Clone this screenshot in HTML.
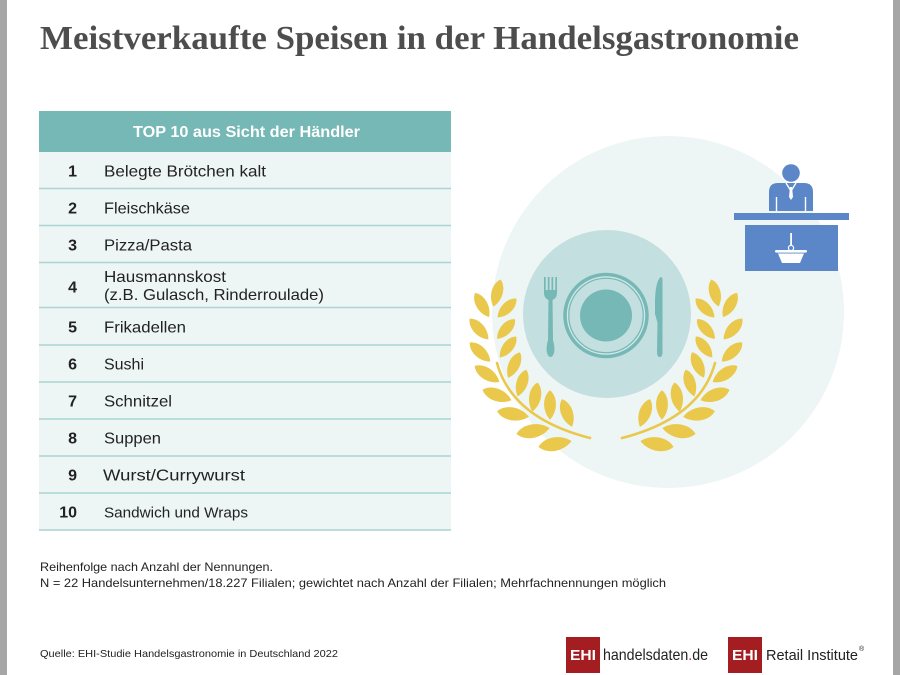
<!DOCTYPE html>
<html>
<head>
<meta charset="utf-8">
<style>
html,body{margin:0;padding:0;background:#fff;}
svg{display:block;}
</style>
</head>
<body>
<svg width="900" height="675" viewBox="0 0 900 675" xmlns="http://www.w3.org/2000/svg">
  <defs>
    <path id="leaf" d="M0,-14 C7.5,-8 7.5,6 0,14 C-7.5,6 -7.5,-8 0,-14Z"/>
  </defs>
  <rect x="0" y="0" width="900" height="675" fill="#ffffff"/>
  <rect x="0" y="0" width="7" height="675" fill="#a6a6a6"/>
  <rect x="893" y="0" width="7" height="675" fill="#a6a6a6"/>

  <!-- Title -->
  <text x="40" y="49" font-family="'Liberation Serif', serif" font-weight="bold" font-size="34" fill="#4d4d4d" textLength="759" lengthAdjust="spacingAndGlyphs">Meistverkaufte Speisen in der Handelsgastronomie</text>

  <!-- Table -->
  <rect x="39" y="111" width="412" height="41" fill="#76b8b6"/>
  <text x="133" y="137" font-family="'Liberation Sans', sans-serif" font-weight="bold" font-size="15.5" fill="#ffffff" textLength="227" lengthAdjust="spacingAndGlyphs">TOP 10 aus Sicht der Händler</text>
  <rect x="39" y="152" width="412" height="378" fill="#eef5f5"/>
  <g stroke="#a9d4d2" stroke-width="1.6">
    <line x1="39" y1="188.5" x2="451" y2="188.5"/>
    <line x1="39" y1="225.5" x2="451" y2="225.5"/>
    <line x1="39" y1="262.5" x2="451" y2="262.5"/>
    <line x1="39" y1="307.5" x2="451" y2="307.5"/>
    <line x1="39" y1="345" x2="451" y2="345"/>
    <line x1="39" y1="382" x2="451" y2="382"/>
    <line x1="39" y1="419" x2="451" y2="419"/>
    <line x1="39" y1="456" x2="451" y2="456"/>
    <line x1="39" y1="493" x2="451" y2="493"/>
    <line x1="39" y1="530" x2="451" y2="530"/>
  </g>
  <g font-family="'Liberation Sans', sans-serif" font-weight="bold" font-size="16" fill="#222" text-anchor="end">
    <text x="77" y="176.5">1</text>
    <text x="77" y="213.5">2</text>
    <text x="77" y="250.5">3</text>
    <text x="77" y="292.5">4</text>
    <text x="77" y="332.5">5</text>
    <text x="77" y="369.5">6</text>
    <text x="77" y="406.5">7</text>
    <text x="77" y="443.5">8</text>
    <text x="77" y="480.5">9</text>
    <text x="77" y="517.5">10</text>
  </g>
  <g font-family="'Liberation Sans', sans-serif" font-size="16" fill="#222">
    <text x="104" y="176.5" textLength="162" lengthAdjust="spacingAndGlyphs">Belegte Brötchen kalt</text>
    <text x="104" y="213.5" textLength="86" lengthAdjust="spacingAndGlyphs">Fleischkäse</text>
    <text x="104" y="250.5" textLength="88" lengthAdjust="spacingAndGlyphs">Pizza/Pasta</text>
    <text x="104" y="282" textLength="122" lengthAdjust="spacingAndGlyphs">Hausmannskost</text>
    <text x="104" y="300" textLength="220" lengthAdjust="spacingAndGlyphs">(z.B. Gulasch, Rinderroulade)</text>
    <text x="104" y="332.5" textLength="82" lengthAdjust="spacingAndGlyphs">Frikadellen</text>
    <text x="104" y="369.5" textLength="40" lengthAdjust="spacingAndGlyphs">Sushi</text>
    <text x="104" y="406.5" textLength="68" lengthAdjust="spacingAndGlyphs">Schnitzel</text>
    <text x="104" y="443.5" textLength="57" lengthAdjust="spacingAndGlyphs">Suppen</text>
    <text x="103" y="480.5" textLength="142" lengthAdjust="spacingAndGlyphs">Wurst/Currywurst</text>
    <text x="104" y="517.5" font-size="15" textLength="144" lengthAdjust="spacingAndGlyphs">Sandwich und Wraps</text>
  </g>

  <!-- Illustration -->
  <circle cx="668" cy="312" r="176" fill="#eef5f5"/>
  <circle cx="607" cy="314" r="84" fill="#c4dfdf"/>
  <!-- plate -->
  <circle cx="606" cy="315.5" r="41" fill="none" stroke="#76b8b6" stroke-width="3.5"/>
  <circle cx="606" cy="315.5" r="38.6" fill="none" stroke="#d6e9e9" stroke-width="0.8"/>
  <circle cx="606" cy="315.5" r="37.2" fill="none" stroke="#76b8b6" stroke-width="1.2"/>
  <circle cx="606" cy="315.5" r="26" fill="#76b8b6"/>
  <!-- fork -->
  <g fill="#76b8b6">
    <rect x="544" y="277" width="1.7" height="15"/>
    <rect x="547.8" y="277" width="1.7" height="15"/>
    <rect x="551.5" y="277" width="1.7" height="15"/>
    <rect x="555.3" y="277" width="1.7" height="15"/>
    <path d="M544,290 L557,290 L557,293 Q557,298 552.5,300 L548.5,300 Q544,298 544,293 Z"/>
    <path d="M548.5,299 L552.5,299 L553,340 Q555,347 554.2,352 Q553,357 550.5,357 Q548,357 546.8,352 Q546,347 548,340 Z"/>
  </g>
  <!-- knife -->
  <path fill="#76b8b6" d="M660.5,277 Q655.5,282 655,300 L655,314 Q656.5,319 657.5,323 L657,352 Q657,357 659.7,357 Q662.5,357 662.5,352 L662.5,280 Q662.5,277 660.5,277 Z"/>

  <!-- laurels -->
  <g fill="#e9c84b">
    <path d="M497,363 Q512,418 590,438" fill="none" stroke="#e9c84b" stroke-width="2.6" stroke-linecap="round"/>
    <use href="#leaf" transform="translate(497,293) rotate(15)"/>
    <use href="#leaf" transform="translate(482,305) rotate(-30)"/>
    <use href="#leaf" transform="translate(479,329) rotate(-42)"/>
    <use href="#leaf" transform="translate(480,352) rotate(-47)"/>
    <use href="#leaf" transform="translate(487,374) rotate(-57) scale(1.05)"/>
    <use href="#leaf" transform="translate(497,395) rotate(-70) scale(1.1)"/>
    <use href="#leaf" transform="translate(513,414) rotate(-80) scale(1.15)"/>
    <use href="#leaf" transform="translate(533,431) rotate(-100) scale(1.2)"/>
    <use href="#leaf" transform="translate(555,444) rotate(-100) scale(1.2)"/>
    <use href="#leaf" transform="translate(507,308) rotate(45) scale(0.95)"/>
    <use href="#leaf" transform="translate(506,329) rotate(42) scale(0.95)"/>
    <use href="#leaf" transform="translate(508,347) rotate(38) scale(0.95)"/>
    <use href="#leaf" transform="translate(514,365) rotate(25)"/>
    <use href="#leaf" transform="translate(522,383) rotate(18)"/>
    <use href="#leaf" transform="translate(535,397) rotate(10) scale(1.05)"/>
    <use href="#leaf" transform="translate(550,405) rotate(0) scale(1.05)"/>
    <use href="#leaf" transform="translate(567,413) rotate(-20) scale(1.05)"/>
  </g>
  <g transform="translate(1212,0) scale(-1,1)" fill="#e9c84b">
    <path d="M497,363 Q512,418 590,438" fill="none" stroke="#e9c84b" stroke-width="2.6" stroke-linecap="round"/>
    <use href="#leaf" transform="translate(497,293) rotate(15)"/>
    <use href="#leaf" transform="translate(482,305) rotate(-30)"/>
    <use href="#leaf" transform="translate(479,329) rotate(-42)"/>
    <use href="#leaf" transform="translate(480,352) rotate(-47)"/>
    <use href="#leaf" transform="translate(487,374) rotate(-57) scale(1.05)"/>
    <use href="#leaf" transform="translate(497,395) rotate(-70) scale(1.1)"/>
    <use href="#leaf" transform="translate(513,414) rotate(-80) scale(1.15)"/>
    <use href="#leaf" transform="translate(533,431) rotate(-100) scale(1.2)"/>
    <use href="#leaf" transform="translate(555,444) rotate(-100) scale(1.2)"/>
    <use href="#leaf" transform="translate(507,308) rotate(45) scale(0.95)"/>
    <use href="#leaf" transform="translate(506,329) rotate(42) scale(0.95)"/>
    <use href="#leaf" transform="translate(508,347) rotate(38) scale(0.95)"/>
    <use href="#leaf" transform="translate(514,365) rotate(25)"/>
    <use href="#leaf" transform="translate(522,383) rotate(18)"/>
    <use href="#leaf" transform="translate(535,397) rotate(10) scale(1.05)"/>
    <use href="#leaf" transform="translate(550,405) rotate(0) scale(1.05)"/>
    <use href="#leaf" transform="translate(567,413) rotate(-20) scale(1.05)"/>
  </g>

  <!-- person at counter -->
  <g fill="#5b87c8">
    <circle cx="791" cy="173" r="8.8"/>
    <path d="M769,211 L769,192 Q769,183 778,183 L804,183 Q813,183 813,192 L813,211 Z"/>
    <rect x="734" y="213" width="115" height="7"/>
    <rect x="745" y="225" width="93" height="46"/>
  </g>
  <g stroke="#ffffff" stroke-width="1.4" fill="none">
    <line x1="776.5" y1="197" x2="776.5" y2="211"/>
    <line x1="805.5" y1="197" x2="805.5" y2="211"/>
    <polyline points="786,183 791,191 796,183"/>
  </g>
  <path d="M790,187 L792,187 L793,197 L791,200 L789,197 Z" fill="#ffffff"/>
  <!-- basket -->
  <g fill="#ffffff">
    <rect x="790.2" y="233" width="1.8" height="13"/>
    <circle cx="791" cy="248" r="2.6" fill="none" stroke="#ffffff" stroke-width="1.2"/>
    <rect x="775" y="250" width="32" height="2.6" rx="1.2"/>
    <path d="M778,253.5 L804,253.5 L800,263 L782,263 Z"/>
  </g>

  <!-- Footnotes -->
  <g font-family="'Liberation Sans', sans-serif" fill="#222">
    <text x="40" y="571" font-size="12" textLength="233" lengthAdjust="spacingAndGlyphs">Reihenfolge nach Anzahl der Nennungen.</text>
    <text x="40" y="587" font-size="12" textLength="626" lengthAdjust="spacingAndGlyphs">N = 22 Handelsunternehmen/18.227 Filialen; gewichtet nach Anzahl der Filialen; Mehrfachnennungen möglich</text>
    <text x="40" y="657" font-size="10.5" textLength="298" lengthAdjust="spacingAndGlyphs">Quelle: EHI-Studie Handelsgastronomie in Deutschland 2022</text>
  </g>

  <!-- Logos -->
  <rect x="566" y="637" width="34" height="36" fill="#a41d21"/>
  <text x="583" y="660" text-anchor="middle" font-family="'Liberation Sans', sans-serif" font-weight="bold" font-size="15" fill="#ffffff" textLength="26" lengthAdjust="spacingAndGlyphs">EHI</text>
  <text x="603" y="660" font-family="'Liberation Sans', sans-serif" font-size="16" fill="#222" textLength="105" lengthAdjust="spacingAndGlyphs">handelsdaten<tspan fill="#c0282d">.</tspan>de</text>
  <rect x="728" y="637" width="34" height="36" fill="#a41d21"/>
  <text x="745" y="660" text-anchor="middle" font-family="'Liberation Sans', sans-serif" font-weight="bold" font-size="15" fill="#ffffff" textLength="26" lengthAdjust="spacingAndGlyphs">EHI</text>
  <text x="766" y="660" font-family="'Liberation Sans', sans-serif" font-size="15" fill="#222" textLength="92" lengthAdjust="spacingAndGlyphs">Retail Institute</text>
  <text x="859" y="651" font-family="'Liberation Sans', sans-serif" font-size="7" fill="#222">®</text>
</svg>
</body>
</html>
